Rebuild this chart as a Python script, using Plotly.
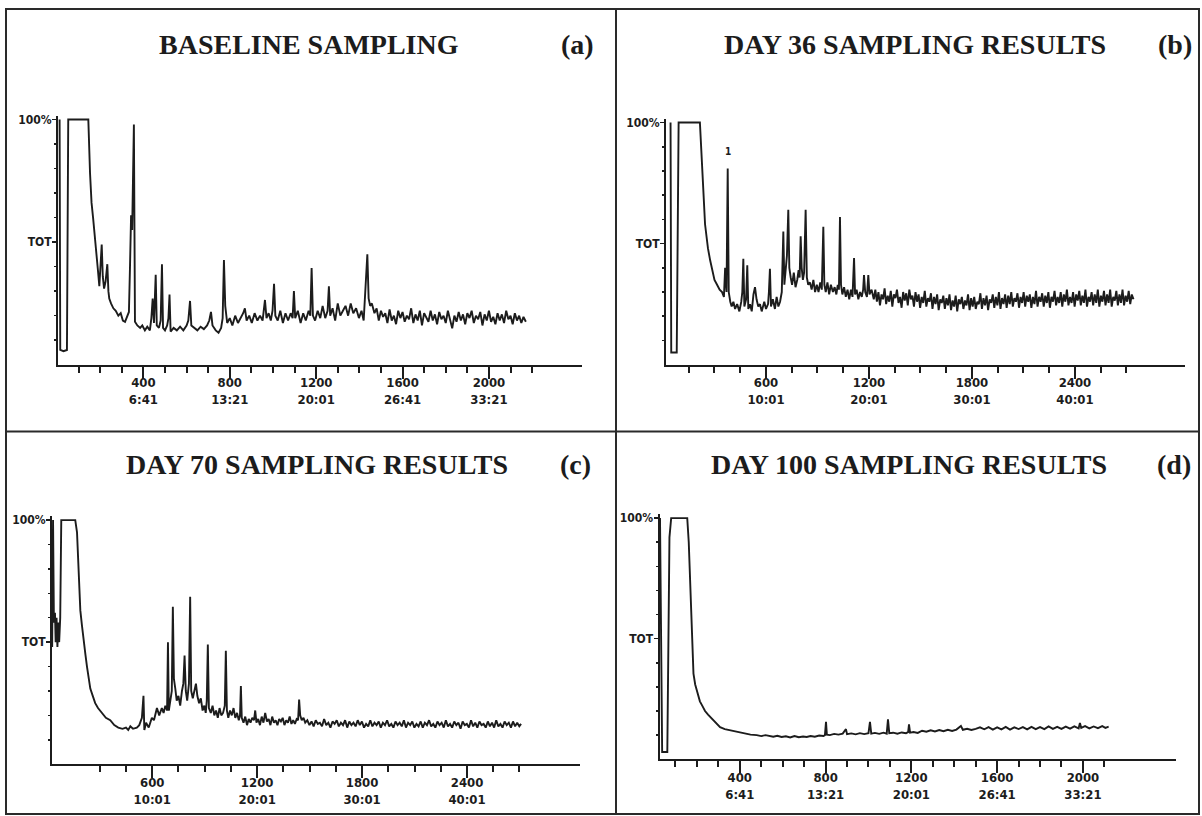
import plotly.graph_objects as go

W, H = 1202, 816

# ---------------- data (scan number, % of full scale) ----------------
A_POINTS = [
    (12, 100), (15, 6), (30, 5.5), (46, 6), (52, 100), (145, 100), (153, 78), (160, 66), (167, 60), (173, 55),
    (178, 50), (184, 45), (190, 38), (196, 32), (201, 40), (207, 49), (212, 36), (218, 31), (225, 34), (233, 41),
    (238, 30), (242, 27), (250, 25), (261, 23), (272, 22), (284, 20), (295, 21), (305, 18), (315, 17.5), (325, 20),
    (333, 21.5), (338, 40), (343, 61), (348, 55), (356, 98), (361, 17.5), (372, 16), (385, 15), (395, 16), (407, 14),
    (418, 15.5), (430, 14), (437, 19), (443, 27), (449, 17), (457, 36.7), (462, 16), (472, 15), (480, 18), (486, 41),
    (491, 15), (500, 14), (510, 16), (516, 19), (521, 28.6), (526, 13.5), (540, 15), (555, 14), (570, 15.5), (585, 14),
    (600, 16), (608, 18), (616, 26), (622, 16), (635, 15), (650, 14), (665, 15.5), (680, 14.5), (695, 16), (705, 18),
    (713, 21.5), (720, 16), (735, 14), (748, 13), (760, 15), (767, 19), (773, 42.7), (779, 24), (788, 17), (800, 19),
    (812, 16), (825, 20), (838, 17), (850, 19), (862, 21), (870, 23), (878, 18), (890, 20), (902, 17), (915, 21),
    (928, 18), (940, 20), (952, 18), (963, 26.4), (970, 19), (980, 21), (990, 18), (998, 22), (1005, 33), (1011, 20),
    (1022, 18), (1034, 22), (1046, 17), (1058, 21), (1070, 18), (1082, 21), (1091, 19), (1097, 30), (1103, 19), (1115, 22),
    (1128, 17), (1140, 21), (1152, 18), (1165, 22), (1173, 20), (1179, 39.4), (1185, 20), (1195, 18), (1207, 22), (1219, 19),
    (1230, 24), (1242, 19), (1253, 22), (1259, 32), (1265, 20), (1276, 23), (1288, 18), (1300, 25), (1312, 20), (1324, 22),
    (1336, 24), (1348, 20), (1360, 25), (1372, 21), (1385, 23), (1398, 19), (1410, 22), (1420, 18), (1428, 30), (1437, 45),
    (1443, 27), (1450, 24), (1458, 25),
    (1470, 21), (1480, 23), (1490, 18), (1500, 22), (1510, 19.5), (1520, 21), (1530, 17), (1540, 22.5), (1550, 18), (1560, 20),
    (1570, 16.5), (1580, 22), (1590, 19), (1600, 21.5), (1610, 17.5), (1620, 20), (1630, 18.5), (1640, 23), (1650, 17), (1660, 20.5),
    (1670, 18), (1680, 22), (1690, 16), (1700, 21), (1710, 19), (1720, 17.5), (1730, 22), (1740, 18), (1750, 20.5), (1760, 16.5),
    (1770, 21.5), (1780, 18.5), (1790, 20), (1800, 17), (1810, 22), (1820, 18), (1830, 14.8), (1840, 20), (1850, 17.5), (1860, 21.5),
    (1870, 18), (1880, 20.5), (1890, 16.5), (1900, 21), (1910, 19), (1920, 22), (1930, 17), (1940, 20), (1950, 18.5), (1960, 21.5),
    (1970, 16), (1980, 20.5), (1990, 18), (2000, 22), (2010, 17.5), (2020, 19.5), (2030, 16.5), (2040, 21), (2050, 18), (2060, 20.5),
    (2070, 17), (2080, 22), (2090, 18.5), (2100, 20), (2110, 16.5), (2120, 21), (2130, 18), (2140, 20), (2150, 17), (2160, 19.5),
    (2171, 17.5),
]

B_POINTS = [
    (44, 100), (48, 5), (80, 5), (91, 100), (215, 100), (227, 80), (235, 72), (245, 58), (262, 48), (275, 43),
    (285, 40), (300, 35), (315, 33), (330, 31), (344, 30), (355, 28), (362, 40), (370, 30), (377, 81), (383, 30),
    (392, 26), (400, 24), (410, 26), (420, 23), (432, 25), (445, 22), (456, 26), (462, 30), (468, 43.7), (474, 24),
    (484, 27), (491, 41), (497, 23), (507, 25), (517, 22), (527, 29), (536, 32), (545, 27), (555, 24), (565, 25),
    (575, 22), (590, 26), (600, 23), (612, 25), (617, 30), (623, 39.6), (629, 24), (640, 27), (652, 23), (662, 28),
    (672, 24), (682, 26), (692, 30), (701, 55), (707, 33), (714, 38), (722, 45), (730, 64), (736, 40), (744, 36),
    (752, 33), (762, 38), (772, 32), (782, 35), (790, 39), (796, 36), (802, 53), (808, 40), (815, 35), (822, 38),
    (831, 64), (838, 36), (846, 33), (856, 34), (866, 31), (876, 35), (886, 30), (896, 33), (906, 30), (916, 34),
    (925, 31), (934, 57), (940, 33), (948, 30), (958, 34), (968, 29), (978, 33), (990, 30), (1000, 32), (1010, 29),
    (1018, 33), (1025, 31), (1031, 61), (1037, 33), (1045, 29), (1055, 32), (1065, 28), (1075, 31), (1085, 27), (1095, 31),
    (1104, 28), (1113, 44), (1119, 29), (1128, 31), (1138, 27), (1148, 30), (1158, 28), (1166, 31), (1171, 37), (1178, 30),
    (1188, 28), (1196, 37), (1203, 29), (1215, 31),
    (1228, 27), (1237, 31), (1246, 26), (1255, 30), (1264, 24.5), (1273, 29), (1282, 27), (1291, 31.5), (1300, 25), (1309, 28.5),
    (1318, 26), (1327, 30.5), (1336, 24), (1345, 29), (1354, 27.5), (1363, 31), (1372, 25.5), (1381, 28), (1390, 23.5), (1399, 30),
    (1408, 26.5), (1417, 29.5), (1426, 24.5), (1435, 31), (1444, 27), (1453, 28.5), (1462, 24), (1471, 30), (1480, 26), (1489, 29),
    (1498, 23.5), (1507, 28), (1516, 25.5), (1525, 30.5), (1534, 24), (1543, 27.5), (1552, 26), (1561, 29.5), (1570, 23), (1579, 28),
    (1588, 25), (1597, 29), (1606, 22.5), (1615, 27), (1624, 25.5), (1633, 28.5), (1642, 23), (1651, 27.5), (1660, 24.5), (1669, 29),
    (1678, 22.5), (1687, 26.5), (1696, 24), (1705, 28.5), (1714, 22), (1723, 27), (1732, 25), (1741, 28), (1750, 23), (1759, 26.5),
    (1768, 24.5), (1777, 29), (1786, 22.5), (1795, 27.5), (1804, 24), (1813, 28), (1822, 23), (1831, 26), (1840, 25), (1849, 29.5),
    (1858, 23), (1867, 27.5), (1876, 24.5), (1885, 28.5), (1894, 22.5), (1903, 27), (1912, 25.5), (1921, 29), (1930, 23.5), (1939, 28),
    (1948, 24.5), (1957, 30), (1966, 23), (1975, 27.5), (1984, 25), (1993, 29), (2002, 23.5), (2011, 28.5), (2020, 25), (2029, 30),
    (2038, 24), (2047, 27.5), (2056, 26), (2065, 29.5), (2074, 23.5), (2083, 28), (2092, 25.5), (2101, 30), (2110, 24), (2119, 28.5),
    (2128, 26), (2137, 29), (2146, 23.5), (2155, 28), (2164, 25), (2173, 30.5), (2182, 24), (2191, 28), (2200, 26), (2209, 29.5),
    (2218, 24), (2227, 28.5), (2236, 25.5), (2245, 30), (2254, 23.5), (2263, 28), (2272, 26), (2281, 30.5), (2290, 24.5), (2299, 28),
    (2308, 25.5), (2317, 30), (2326, 24), (2335, 29), (2344, 26), (2353, 31), (2362, 24.5), (2371, 28), (2380, 25.5), (2389, 30),
    (2398, 24), (2407, 29), (2416, 26.5), (2425, 30.5), (2434, 24.5), (2443, 28.5), (2452, 25.5), (2461, 31), (2470, 24), (2479, 28),
    (2488, 26), (2497, 30), (2506, 24.5), (2515, 29), (2524, 25.5), (2533, 31), (2542, 24), (2551, 28.5), (2560, 26), (2569, 30.5),
    (2578, 24.5), (2587, 29), (2596, 25.5), (2605, 31), (2614, 24), (2623, 28), (2632, 26.5), (2641, 30.5), (2650, 24.5), (2659, 29),
    (2668, 25.5), (2677, 31), (2686, 24.5), (2695, 28.5), (2704, 26), (2713, 30.5), (2722, 25), (2731, 29), (2741, 27),
]

C_POINTS = [
    (28, 48), (33, 100), (38, 58), (44, 62), (48, 50), (53, 60), (58, 48), (63, 58), (68, 50), (74, 60),
    (80, 100), (160, 100), (170, 95), (179, 76), (189, 63), (198, 57), (208, 52), (218, 45), (227, 40), (236, 35),
    (246, 31), (260, 28), (274, 25), (290, 23), (312, 21), (335, 19), (360, 18), (383, 16), (406, 15), (430, 14.5),
    (450, 15), (463, 14), (475, 15.5), (490, 14.5), (512, 15), (526, 16), (541, 19), (546, 24), (550, 28), (555, 14),
    (565, 17), (580, 15), (598, 19), (610, 18), (620, 21), (627, 23), (640, 20), (655, 23), (665, 21), (675, 24),
    (685, 22), (690, 50), (695, 22), (705, 26), (712, 30), (718, 64.5), (724, 35), (732, 31), (740, 26), (750, 28),
    (760, 24), (770, 30), (778, 33), (785, 44.5), (792, 30), (800, 26), (810, 33), (817, 68.6), (823, 30), (832, 27),
    (842, 30), (850, 33), (858, 28), (868, 25), (878, 27), (888, 22), (898, 24), (906, 21), (912, 26), (918, 49),
    (924, 23), (935, 21), (945, 24), (955, 20), (965, 22), (975, 19), (985, 23), (995, 20), (1005, 21), (1015, 24),
    (1021, 46.5), (1027, 22), (1035, 19), (1045, 22), (1055, 20), (1065, 23), (1075, 19), (1085, 21), (1095, 18), (1102, 20),
    (1107, 32), (1112, 19), (1122, 17), (1132, 19.5), (1142, 16), (1152, 18.5), (1162, 17), (1172, 19), (1182, 18), (1189, 22),
    (1196, 17), (1206, 18.5), (1216, 16), (1226, 19.5), (1236, 17), (1246, 21), (1256, 17.5), (1266, 18.5), (1276, 16), (1286, 19.5),
    (1296, 17), (1306, 18), (1316, 16), (1326, 18.5), (1336, 17.5), (1346, 19), (1356, 16), (1366, 18), (1376, 17), (1386, 19.5),
    (1396, 16.5), (1406, 18), (1416, 16.5), (1426, 18.5), (1434, 18), (1440, 26.5), (1446, 20), (1455, 18), (1465, 19),
    (1475, 17), (1487, 18), (1499, 16), (1511, 17.5), (1523, 15.5), (1535, 18), (1547, 16.5), (1559, 17), (1571, 15.5), (1583, 18.5),
    (1595, 16), (1607, 17), (1619, 15), (1631, 17.5), (1643, 16.5), (1655, 18), (1667, 15.5), (1679, 17), (1691, 16), (1703, 18),
    (1715, 15), (1727, 17.5), (1739, 16), (1751, 17), (1763, 15.5), (1775, 18), (1787, 16), (1799, 17.5), (1811, 15), (1823, 16.5),
    (1835, 15.5), (1847, 18), (1859, 15.5), (1871, 17), (1883, 16), (1895, 17.5), (1907, 15), (1919, 17), (1931, 16), (1943, 18),
    (1955, 15.5), (1967, 16.5), (1979, 15), (1991, 17.5), (2003, 16), (2015, 17), (2027, 15.5), (2039, 18), (2051, 15), (2063, 17),
    (2075, 16), (2087, 17.5), (2099, 15), (2111, 16.5), (2123, 15.5), (2135, 17.5), (2147, 15), (2159, 17), (2171, 16), (2183, 18),
    (2195, 15.5), (2207, 16.5), (2219, 15), (2231, 17.5), (2243, 16), (2255, 17), (2267, 15), (2279, 18), (2291, 15.5), (2303, 16.5),
    (2315, 15), (2327, 17.5), (2339, 16), (2351, 17), (2363, 14.5), (2375, 17.5), (2387, 16), (2399, 16.5), (2411, 15), (2423, 18),
    (2435, 15.5), (2447, 17), (2459, 15), (2471, 17.5), (2483, 16), (2495, 16.5), (2507, 15), (2519, 17.5), (2531, 15.5), (2543, 17),
    (2555, 15), (2567, 18), (2579, 15.5), (2591, 16.5), (2603, 15), (2615, 17.5), (2627, 16), (2639, 17), (2651, 15), (2663, 17.5),
    (2675, 15.5), (2687, 17), (2699, 15.5), (2709, 16.5),
]

D_POINTS = [
    (28, 100), (38, 3), (62, 3), (72, 92), (80, 100), (155, 100), (162, 90), (168, 75), (172, 61), (176, 48),
    (180, 41), (184, 35.5), (192, 31), (199, 28.5), (207, 26), (214, 24), (226, 22), (238, 20), (252, 18.5), (269, 17),
    (288, 15), (308, 13.3), (330, 12.5), (354, 12), (378, 11.5), (401, 11), (425, 10.5), (450, 10.2), (479, 10), (500, 9.6),
    (520, 10), (540, 9.5), (556, 9.3), (575, 9.7), (595, 9.2), (615, 9.5), (635, 9), (655, 9.6), (675, 9.1), (695, 9.4),
    (712, 9.2), (730, 9.6), (750, 9.3), (770, 9.8), (790, 9.6), (797, 10), (802, 15.5), (806, 10.2), (820, 10), (840, 10.5),
    (860, 10.2), (880, 10.6), (895, 12.5), (900, 10.4), (920, 10.7), (940, 10.3), (960, 10.8), (980, 10.4), (1000, 10.8), (1007, 15.5),
    (1013, 10.6), (1030, 10.9), (1050, 10.5), (1070, 11), (1085, 10.6), (1091, 16.5), (1097, 10.8), (1115, 11), (1135, 10.6), (1155, 11.1),
    (1175, 10.8), (1185, 11.2), (1189, 14.5), (1194, 11), (1210, 11.3), (1230, 10.9), (1250, 11.8), (1270, 11.4), (1290, 12), (1310, 11.5),
    (1330, 12.1), (1350, 11.6), (1370, 12.2), (1390, 11.7), (1410, 12.3), (1431, 13.8), (1440, 12.2), (1460, 12.6), (1480, 12.1), (1500, 12.6),
    (1520, 13.2), (1540, 12.4), (1560, 13.3), (1580, 12.3), (1600, 13.2), (1620, 12.4), (1640, 13.4), (1660, 12.3), (1680, 13.2), (1700, 12.5),
    (1720, 13.3), (1740, 12.4), (1760, 13.4), (1780, 12.5), (1800, 13.3), (1820, 12.5), (1840, 13.6), (1860, 12.6), (1880, 13.4), (1900, 12.6),
    (1920, 13.5), (1940, 12.7), (1960, 13.6), (1980, 12.8), (1986, 15), (1992, 13), (2010, 13.7), (2030, 12.8), (2050, 13.6), (2070, 12.9),
    (2090, 13.7), (2105, 13), (2120, 13.5),
]

TITLES = ["BASELINE SAMPLING", "DAY 36 SAMPLING RESULTS", "DAY 70 SAMPLING RESULTS", "DAY 100 SAMPLING RESULTS"]
TAGS = ["(a)", "(b)", "(c)", "(d)"]

MAJOR_400 = [400, 800, 1200, 1600, 2000]
LABELS_400 = ["400<br>6:41", "800<br>13:21", "1200<br>20:01", "1600<br>26:41", "2000<br>33:21"]
MAJOR_600 = [600, 1200, 1800, 2400]
LABELS_600 = ["600<br>10:01", "1200<br>20:01", "1800<br>30:01", "2400<br>40:01"]

Y_TICKS = [50, 100]
Y_LABELS = ["TOT", "100%"]

PEAK_B_LABEL = (377, 85, "1")

# ---------------- layout geometry (pixels) ----------------
PANELS = [
    dict(pts=A_POINTS, major=MAJOR_400, labels=LABELS_400, minor=[v for v in range(100, 2201, 100) if v not in MAJOR_400],
         px=(58, 582), py=(117, 363), xr=(4.6, 2431), tx=309, tagx=577, ty=42),
    dict(pts=B_POINTS, major=MAJOR_600, labels=LABELS_600, minor=[v for v in range(150, 2701, 150) if v not in MAJOR_600],
         px=(666, 1185), py=(120, 363), xr=(17.5, 3041), tx=915, tagx=1175, ty=42),
    dict(pts=C_POINTS, major=MAJOR_600, labels=LABELS_600, minor=[v for v in range(300, 2701, 150) if v not in MAJOR_600],
         px=(52, 580), py=(519, 764), xr=(27, 3046), tx=317, tagx=575, ty=463),
    dict(pts=D_POINTS, major=MAJOR_400, labels=LABELS_400, minor=[v for v in range(100, 2101, 100) if v not in MAJOR_400],
         px=(659.5, 1176), py=(517, 759), xr=(25.6, 2434), tx=909, tagx=1174, ty=463),
]

INK = "#1c1c1c"
NARROW = "Liberation Sans Narrow, DejaVu Sans Condensed, Arial Narrow, sans-serif"
TICKFONT = dict(family=NARROW, size=13, color=INK, weight="bold")
TITLEFONT = dict(family="Liberation Serif, Times New Roman, serif", size=28, color=INK)
YTOP = 101.5

fig = go.Figure()
layout = dict(
    width=W, height=H, margin=dict(l=0, r=0, t=0, b=0),
    paper_bgcolor="white", plot_bgcolor="white", showlegend=False,
    annotations=[], shapes=[],
)

for i, p in enumerate(PANELS):
    n = i + 1
    xs = [q[0] for q in p["pts"]]
    ys = [q[1] for q in p["pts"]]
    xa = "x" if n == 1 else f"x{n}"
    ya = "y" if n == 1 else f"y{n}"
    fig.add_trace(go.Scatter(x=xs, y=ys, xaxis=xa, yaxis=ya, mode="lines",
                             line=dict(color=INK, width=1.9), hoverinfo="skip"))
    x0, x1 = p["px"]
    ytop, ybot = p["py"]
    ytop_ext = ytop - (YTOP - 100) / 100 * (ybot - ytop)
    xdom = [x0 / W, x1 / W]
    ydom = [1 - ybot / H, 1 - ytop_ext / H]
    xkey = "xaxis" if n == 1 else f"xaxis{n}"
    ykey = "yaxis" if n == 1 else f"yaxis{n}"
    layout[xkey] = dict(
        domain=xdom, anchor=ya, range=list(p["xr"]), showgrid=False, zeroline=False,
        showline=True, linecolor=INK, linewidth=2,
        tickmode="array", tickvals=p["major"], ticktext=p["labels"],
        ticks="outside", ticklen=12, tickwidth=2, tickcolor=INK, tickfont=TICKFONT,
        ticklabelstandoff=-7,
        minor=dict(tickmode="array", tickvals=p["minor"], ticks="outside", ticklen=6, tickwidth=2, tickcolor=INK),
    )
    layout[ykey] = dict(
        domain=ydom, anchor=xa, range=[0, YTOP], showgrid=False, zeroline=False,
        showline=True, linecolor=INK, linewidth=2,
        tickmode="array", tickvals=Y_TICKS, ticktext=Y_LABELS,
        ticks="outside", ticklen=4, tickwidth=1.5, tickcolor=INK,
        tickfont=dict(family=NARROW, size=12, color=INK, weight="bold"),
        ticklabelstandoff=-2,
        minor=dict(tickmode="array", tickvals=[10, 20, 30, 40, 60, 70, 80, 90], ticks="outside",
                   ticklen=2, tickwidth=1.5, tickcolor=INK),
    )
    rkey = f"yaxis{n + 4}"
    layout[rkey] = dict(
        overlaying=ya, anchor=xa, side="right", range=[0, YTOP], showgrid=False, zeroline=False,
        showline=True, linecolor=INK, linewidth=2, showticklabels=False,
        tickmode="array", tickvals=[10, 20, 30, 40, 50, 60, 70, 80, 90, 100],
        ticks="inside", ticklen=5, tickwidth=1.5, tickcolor=INK,
    )
    layout["annotations"].append(dict(
        x=p["tx"] / W, y=1 - p["ty"] / H, xref="paper", yref="paper", text=f"<b>{TITLES[i]}</b>",
        showarrow=False, font=TITLEFONT, xanchor="center", yanchor="middle"))
    layout["annotations"].append(dict(
        x=p["tagx"] / W, y=1 - p["ty"] / H, xref="paper", yref="paper", text=f"<b>{TAGS[i]}</b>",
        showarrow=False, font=TITLEFONT, xanchor="center", yanchor="middle"))

# peak label in panel (b)
layout["annotations"].append(dict(
    x=PEAK_B_LABEL[0], y=PEAK_B_LABEL[1], xref="x2", yref="y2", text=PEAK_B_LABEL[2],
    showarrow=False, yanchor="bottom", font=dict(family=NARROW, size=10, color=INK, weight="bold")))

# panel frame lines
BORDER = dict(color="#2a2a2a", width=2)
layout["shapes"] = [
    dict(type="rect", xref="paper", yref="paper", x0=6 / W, x1=1199 / W, y0=1 - 814 / H, y1=1 - 6 / H, line=BORDER),
    dict(type="line", xref="paper", yref="paper", x0=616 / W, x1=616 / W, y0=1 - 814 / H, y1=1 - 6 / H, line=BORDER),
    dict(type="line", xref="paper", yref="paper", x0=6 / W, x1=1199 / W, y0=1 - 430 / H, y1=1 - 430 / H, line=BORDER),
]

fig.update_layout(**layout)
fig.write_html("out.html", config={"displayModeBar": False, "staticPlot": True},
               post_script="document.body.style.margin='0px';document.body.style.overflow='hidden';")
